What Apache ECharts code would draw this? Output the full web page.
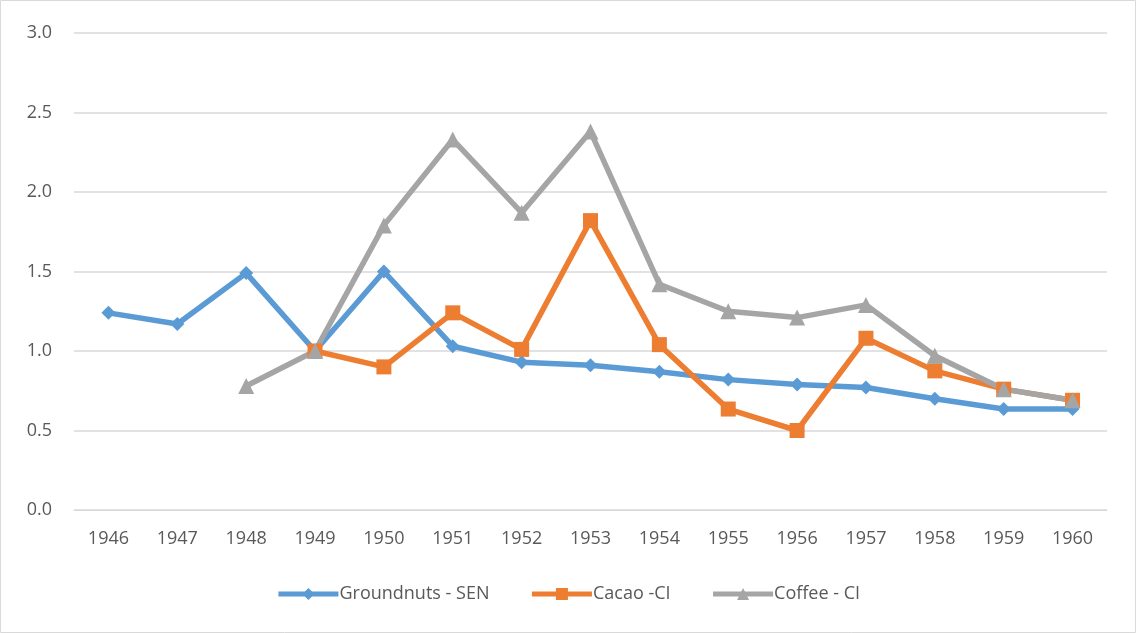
<!DOCTYPE html>
<html>
<head>
<meta charset="UTF-8">
<title></title>
<script src="https://cdn.jsdelivr.net/npm/echarts@6/dist/echarts.min.js"></script>
<style>
* { margin: 0; padding: 0; }
#app { width: 1136px; height: 633px; }
</style>
</head>
<body>
<div id="app"></div>
<script>
var years = ['1946', '1947', '1948', '1949', '1950', '1951', '1952', '1953', '1954', '1955', '1956', '1957', '1958', '1959', '1960'];
var groundnuts = [1.24, 1.17, 1.49, 1.0, 1.50, 1.03, 0.93, 0.91, 0.87, 0.82, 0.79, 0.77, 0.70, 0.635, 0.635];
var cacao = [null, null, null, 1.0, 0.90, 1.24, 1.01, 1.82, 1.04, 0.635, 0.50, 1.08, 0.875, 0.76, 0.69];
var coffee = [null, null, 0.78, 1.0, 1.79, 2.33, 1.87, 2.38, 1.42, 1.25, 1.21, 1.29, 0.97, 0.76, 0.69];

var textColor = '#595959';
var font = 'Open Sans';

function line(name, data, color, symbol, size) {
	return {
		name: name,
		type: 'line',
		data: data,
		symbol: symbol,
		symbolSize: size,
		connectNulls: false,
		lineStyle: { color: color, width: 5.5 },
		itemStyle: { color: color },
		emphasis: { disabled: true }
	};
}

var myChart = echarts.init(document.getElementById('app'));
myChart.setOption({
	animation: false,
	textStyle: { fontFamily: font },
	graphic: [{
		type: 'rect',
		shape: { x: 0.5, y: 0.5, width: 1135, height: 632 },
		style: { fill: null, stroke: '#d9d9d9', lineWidth: 1 },
		silent: true
	}],
	grid: { left: 74, right: 29, top: 33, bottom: 123 },
	legend: {
		bottom: 25,
		left: 'center',
		itemWidth: 60,
		itemHeight: 15,
		itemGap: 40,
		lineStyle: { width: 5 },
		textStyle: { color: textColor, fontSize: 18, fontFamily: font, padding: [0, 0, 0, -4] }
	},
	xAxis: {
		type: 'category',
		data: years,
		boundaryGap: true,
		axisLine: { lineStyle: { color: '#d9d9d9', width: 1 } },
		axisTick: { show: false },
		axisLabel: { color: textColor, fontSize: 18, margin: 20 }
	},
	yAxis: {
		type: 'value',
		min: 0,
		max: 3,
		interval: 0.5,
		axisLine: { show: false },
		axisTick: { show: false },
		splitLine: { lineStyle: { color: '#d9d9d9', width: 1.5 } },
		axisLabel: {
			color: textColor,
			fontSize: 18,
			margin: 22,
			formatter: function (v) { return v.toFixed(1); }
		}
	},
	series: [
		line('Groundnuts - SEN', groundnuts, '#5B9BD5', 'diamond', 14),
		line('Cacao -CI', cacao, '#ED7D31', 'rect', 15),
		line('Coffee - CI', coffee, '#A5A5A5', 'triangle', 16)
	]
});
</script>
</body>
</html>
